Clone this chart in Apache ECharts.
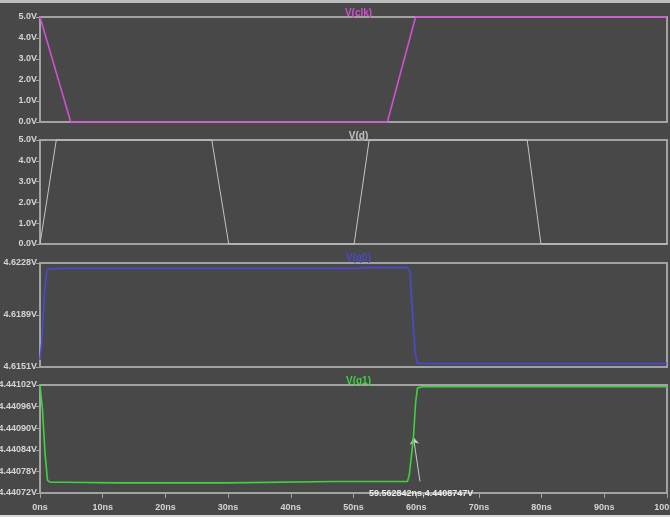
<!DOCTYPE html>
<html>
<head>
<meta charset="utf-8">
<script src="https://cdn.jsdelivr.net/npm/echarts@6/dist/echarts.min.js"></script>
<style>
  html, body { margin: 0; padding: 0; background: #484848; }
  #chart { width: 670px; height: 517px; }
</style>
</head>
<body>
<div id="chart"></div>
<script>
// Transient simulation traces (time in ns, voltage in V)
const clkT = [0, 4.9, 55.4, 59.9, 100];
const clkV = [5, 0, 0, 5, 5];

const dT = [0, 0.2, 2.6, 27.4, 30.1, 50.1, 52.5, 77.7, 79.9, 100];
const dV = [0, 0, 5, 5, 0, 0, 5, 5, 0, 0];

const q0T = [0, 0.3, 0.7, 1.1, 1.6, 3.5, 20, 51, 51.5, 58.6, 59.0, 59.4, 59.8, 60.2, 62, 100];
const q0V = [4.61562, 4.6170, 4.6205, 4.62232, 4.62236, 4.62240, 4.62240, 4.62240, 4.62246, 4.62246, 4.6222, 4.6192, 4.6163, 4.61537, 4.61535, 4.61535];

const q1T = [0, 0.4, 0.8, 1.2, 1.6, 4, 12, 30, 47, 58.6, 58.9, 59.562842, 59.9, 60.2, 61, 100];
const q1V = [4.44102, 4.44095, 4.44083, 4.440755, 4.44075, 4.44075, 4.440748, 4.440748, 4.440752, 4.440752, 4.44077, 4.4408747, 4.44097, 4.441012, 4.441015, 4.441015];

// Cursor readout on V(q1)
const cursorFrom = [60.6, 4.440752];
const cursorAt = [59.562842, 4.4408747];
const cursorText = '59.562842ns,4.4408747V';

// Axis ticks
const xTicks = [0, 10, 20, 30, 40, 50, 60, 70, 80, 90, 100];
const voltTicks = [0, 1, 2, 3, 4, 5];
const q0Ticks = [4.6151, 4.61895, 4.6228];
const q0TickLabels = ['4.6151V', '4.6189V', '4.6228V'];
const q1Ticks = [4.44072, 4.44078, 4.44084, 4.44090, 4.44096, 4.44102];
const q1TickLabels = ['4.44072V', '4.44078V', '4.44084V', '4.44090V', '4.44096V', '4.44102V'];

const traceNames = ['V(clk)', 'V(d)', 'V(q0)', 'V(q1)'];
const traceColors = ['#d24fd2', '#c4c4c4', '#4a4ad0', '#3ed23e'];

const pairs = (t, v) => t.map((x, i) => [x, v[i]]);

const FONT = '"Liberation Sans Narrow", "Liberation Sans", sans-serif';
const LABEL = '#d4d4d4';
const FRAME = '#a2a2a2';

const plotLeft = 40, plotRight = 3;
const grids = [
  { top: 17, height: 105 },
  { top: 140, height: 104 },
  { top: 263, height: 104 },
  { top: 385, height: 108 }
].map(g => ({
  left: plotLeft, right: plotRight, top: g.top, height: g.height,
  containLabel: false, outerBoundsMode: 'none',
  show: true, borderColor: FRAME, borderWidth: 2, backgroundColor: 'transparent'
}));

const xAxes = grids.map((g, i) => ({
  type: 'value', gridIndex: i, min: 0, max: 100, interval: 10,
  axisLine: { show: i === 3, lineStyle: { color: FRAME, width: 2 } },
  axisTick: { show: i === 3, length: 5, lineStyle: { color: FRAME } },
  splitLine: { show: false },
  axisLabel: {
    show: i === 3, color: LABEL, fontFamily: FONT, fontSize: 9, fontWeight: 'bold',
    margin: 10, formatter: v => v + 'ns', customValues: xTicks
  }
}));

function yAxis(i, min, max, values, labels) {
  return {
    type: 'value', gridIndex: i, min: min, max: max,
    axisLine: { show: true, lineStyle: { color: FRAME, width: 2 } },
    axisTick: { show: true, length: 4, lineStyle: { color: FRAME }, customValues: values },
    splitLine: { show: false },
    axisLabel: {
      color: LABEL, fontFamily: FONT, fontSize: 9, fontWeight: 'bold', margin: 3,
      customValues: values,
      formatter: v => {
        const k = values.findIndex(x => Math.abs(x - v) < 1e-9);
        return k >= 0 ? labels[k] : '';
      }
    }
  };
}

const yAxes = [
  yAxis(0, 0, 5, voltTicks, voltTicks.map(v => v.toFixed(1) + 'V')),
  yAxis(1, 0, 5, voltTicks, voltTicks.map(v => v.toFixed(1) + 'V')),
  yAxis(2, q0Ticks[0], q0Ticks[q0Ticks.length - 1], q0Ticks, q0TickLabels),
  yAxis(3, q1Ticks[0], q1Ticks[q1Ticks.length - 1], q1Ticks, q1TickLabels)
];

const centerX = plotLeft + (670 - plotLeft - plotRight) / 2;
const titleTops = [3, 126, 248, 371];
const titles = traceNames.map((name, i) => ({
  text: name, left: centerX, top: titleTops[i], textAlign: 'center',
  textStyle: { color: traceColors[i], fontFamily: FONT, fontSize: 10, fontWeight: 'bold' }
}));

const traceData = [pairs(clkT, clkV), pairs(dT, dV), pairs(q0T, q0V), pairs(q1T, q1V)];
const widths = [1.6, 1, 1.6, 1.6];

const series = traceData.map((d, i) => ({
  type: 'line', name: traceNames[i], xAxisIndex: i, yAxisIndex: i,
  data: d, showSymbol: false, clip: false, animation: false,
  lineStyle: { color: traceColors[i], width: widths[i] },
  z: 5
}));

series[3].markLine = {
  silent: true, animation: false,
  symbol: ['none', 'arrow'], symbolSize: 7,
  lineStyle: { color: '#c8c8c8', width: 1, type: 'solid' },
  label: {
    show: true, position: 'start', distance: 8, formatter: cursorText,
    color: '#ececec', fontFamily: FONT, fontSize: 9, fontWeight: 'bold'
  },
  data: [[{ coord: cursorFrom }, { coord: cursorAt }]]
};

const chart = echarts.init(document.getElementById('chart'), null, { renderer: 'canvas' });
chart.setOption({
  backgroundColor: '#484848',
  animation: false,
  title: titles,
  grid: grids,
  xAxis: xAxes,
  yAxis: yAxes,
  series: series,
  graphic: [
    { type: 'rect', left: 0, top: 0, shape: { width: 670, height: 3 }, style: { fill: '#bdbdbd' }, silent: true },
    { type: 'rect', left: 0, top: 515, shape: { width: 670, height: 2 }, style: { fill: '#d8d8d8' }, silent: true }
  ]
});
</script>
</body>
</html>
